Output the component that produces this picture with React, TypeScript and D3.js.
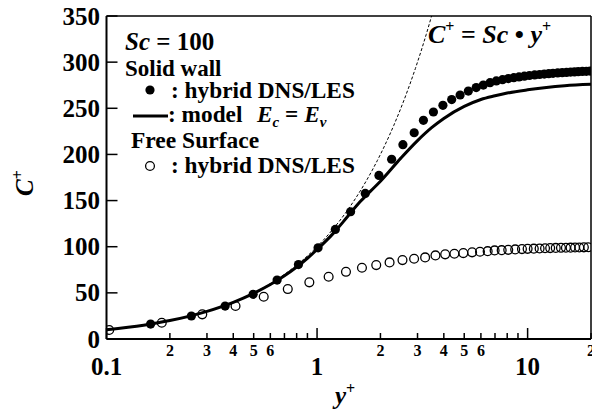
import React from "react";
import * as d3 from "d3";

const wallX = [0.162, 0.253, 0.366, 0.497, 0.646, 0.816, 1.011, 1.221, 1.443, 1.694, 1.967, 2.26, 2.557, 2.893, 3.2, 3.57, 3.96, 4.36, 4.78, 5.23, 5.7, 6.16, 6.63, 7.1, 7.6, 8.1, 8.6, 9.1, 9.65, 10.2, 10.8, 11.4, 12.0, 12.6, 13.2, 13.9, 14.6, 15.3, 16.0, 16.7, 17.4, 18.2, 19.0, 19.8];
const wallC = [16.2, 24.9, 35.7, 48.4, 63.9, 80.6, 98.8, 118.7, 137.9, 157.7, 177.2, 194.8, 210.6, 223.5, 237, 246, 253.2, 259.4, 264.4, 268.7, 272.4, 275.2, 277.8, 279.6, 281, 282.2, 283.2, 284, 284.8, 285.5, 286.1, 286.6, 287.1, 287.5, 287.9, 288.3, 288.6, 288.9, 289.2, 289.4, 289.7, 289.9, 290.1, 290.3];

const freeX = [0.103, 0.183, 0.285, 0.41, 0.558, 0.726, 0.919, 1.135, 1.372, 1.634, 1.91, 2.21, 2.545, 2.89, 3.26, 3.65, 4.06, 4.49, 4.95, 5.45, 5.94, 6.46, 6.97, 7.53, 8.09, 8.73, 9.4, 10.0, 10.7, 11.4, 12.1, 12.8, 13.6, 14.4, 15.2, 16.0, 16.8, 17.6, 18.5, 19.4];
const freeC = [9.7, 17.6, 26.7, 35.7, 45.8, 54.1, 61.4, 67.4, 72.8, 77.2, 80.1, 83.0, 85.5, 86.9, 88.4, 90.6, 91.7, 92.4, 93.1, 93.9, 94.5, 95.2, 96.0, 96.3, 96.6, 97.1, 97.4, 97.7, 97.9, 98.1, 98.3, 98.5, 98.7, 98.8, 98.9, 99.0, 99.1, 99.2, 99.3, 99.4];

const modelX = [0.1, 0.15, 0.2, 0.3, 0.4, 0.5, 0.6, 0.7, 0.8, 0.9, 1.0, 1.2, 1.4, 1.6, 1.8, 2.0, 2.5, 3.0, 3.5, 4, 5, 6, 7, 8, 10, 12, 15, 20];
const modelC = [10, 15, 20, 30, 39.8, 49.5, 59, 68.5, 78, 87.5, 97, 115, 133, 148.6, 160.5, 171, 196, 215, 229, 239, 252, 259.5, 263.5, 266.5, 270, 272.3, 274.5, 276];

const yTicks = [0, 50, 100, 150, 200, 250, 300, 350];
const majorX = [0.1, 1, 10];
const majorLabels = ["0.1", "1", "10"];
const minorMult = [2, 3, 4, 5, 6, 7, 8, 9];
const minorLabeled = [2, 3, 4, 5, 6];
const Sc = 100;

export default function App() {
  const W = 592, H = 419;
  const left = 106.5, right = 591, top = 16, bottom = 339;
  const x = d3.scaleLog().domain([0.1, 20]).range([left, right]);
  const y = d3.scaleLinear().domain([0, 350]).range([bottom, top]);
  const font = "'Liberation Serif', 'Times New Roman', serif";

  const minorTicks: { v: number; m: number }[] = [];
  [0.1, 1, 10].forEach((dec) => {
    minorMult.forEach((m) => {
      const v = dec * m;
      if (v <= 20) minorTicks.push({ v, m });
    });
  });

  const line = d3
    .line<number>()
    .x((_, i) => x(modelX[i]))
    .y((d) => y(d))
    .curve(d3.curveMonotoneX);

  const dashEnd = 350 / Sc;
  const dashXs = d3.range(0, 61).map((i) => 0.1 * Math.pow(dashEnd / 0.1, i / 60));

  return (
    <svg width={W} height={H} style={{ position: "absolute", left: 0, top: 0, background: "#fff" }} fontFamily={font} fontWeight="bold">
      <defs>
        <clipPath id="plot">
          <rect x={left} y={top} width={right - left} height={bottom - top} />
        </clipPath>
      </defs>
      <rect x={0} y={0} width={W} height={H} fill="#fff" />
      {/* frame */}
      <line x1={left} y1={top} x2={right} y2={top} stroke="#000" strokeWidth={1.5} />
      <line x1={right} y1={top} x2={right} y2={bottom} stroke="#000" strokeWidth={1.5} />
      <line x1={left} y1={top} x2={left} y2={bottom} stroke="#000" strokeWidth={2} />
      <line x1={left} y1={bottom} x2={right} y2={bottom} stroke="#000" strokeWidth={2} />

      {/* y ticks */}
      {yTicks.map((t) => (
        <g key={t}>
          <line x1={left} x2={left + 11} y1={y(t)} y2={y(t)} stroke="#000" strokeWidth={1.5} />
          <text x={100} y={y(t) + 8.5} textAnchor="end" fontSize={25}>{t}</text>
        </g>
      ))}

      {/* x ticks */}
      {majorX.map((t, i) => (
        <g key={t}>
          <line x1={x(t)} x2={x(t)} y1={bottom} y2={bottom - 11} stroke="#000" strokeWidth={1.5} />
          <text x={x(t)} y={375} textAnchor="middle" fontSize={25}>{majorLabels[i]}</text>
        </g>
      ))}
      {minorTicks.map((t) => (
        <g key={t.v}>
          <line x1={x(t.v)} x2={x(t.v)} y1={bottom} y2={bottom - 6} stroke="#000" strokeWidth={1.5} />
          {minorLabeled.includes(t.m) && (
            <text x={x(t.v)} y={356} textAnchor="middle" fontSize={16}>{t.m}</text>
          )}
        </g>
      ))}

      {/* axis titles */}
      <text transform={`translate(33,183) rotate(-90)`} textAnchor="middle" fontSize={25}>
        <tspan fontStyle="italic">C</tspan>
        <tspan fontSize={16} dy={-10}>+</tspan>
      </text>
      <text x={345} y={404} textAnchor="middle" fontSize={25}>
        <tspan fontStyle="italic">y</tspan>
        <tspan fontSize={16} dy={-10}>+</tspan>
      </text>

      <g clipPath="url(#plot)">
        {/* dashed C+ = Sc y+ */}
        <path
          d={d3.line<number>().x((d) => x(d)).y((d) => y(Sc * d))(dashXs) || ""}
          fill="none"
          stroke="#000"
          strokeWidth={1}
          strokeDasharray="3,2"
        />
        {/* model line */}
        <path d={line(modelC) || ""} fill="none" stroke="#000" strokeWidth={3} />
        {/* free surface */}
        {freeX.map((v, i) => (
          <circle key={"f" + i} cx={x(v)} cy={y(freeC[i])} r={4.4} fill="none" stroke="#000" strokeWidth={1.3} />
        ))}
        {/* solid wall */}
        {wallX.map((v, i) => (
          <circle key={"w" + i} cx={x(v)} cy={y(wallC[i])} r={4.6} fill="#000" />
        ))}
      </g>

      {/* legend */}
      <text x={125} y={49.5} fontSize={25}>
        <tspan fontStyle="italic">Sc</tspan> = 100
      </text>
      <text x={125} y={76} fontSize={23}>Solid wall</text>
      <circle cx={150} cy={90} r={4.6} fill="#000" />
      <text x={171} y={98} fontSize={23.3}>: hybrid DNS/LES</text>
      <line x1={133} x2={168} y1={116} y2={116} stroke="#000" strokeWidth={3} />
      <text x={168} y={122} fontSize={23.3}>
        : model
        <tspan x={257} fontStyle="italic">E</tspan>
        <tspan fontStyle="italic" fontSize={15} dy={5}>c</tspan>
        <tspan dy={-5}> = </tspan>
        <tspan fontStyle="italic">E</tspan>
        <tspan fontStyle="italic" fontSize={15} dy={5}>v</tspan>
      </text>
      <text x={131} y={148} fontSize={23.5}>Free Surface</text>
      <circle cx={150} cy={166} r={4.4} fill="none" stroke="#000" strokeWidth={1.3} />
      <text x={171} y={173} fontSize={23.3}>: hybrid DNS/LES</text>

      {/* dashed line label */}
      <text x={428} y={43} fontSize={26}>
        <tspan fontStyle="italic">C</tspan>
        <tspan fontSize={16} dy={-11}>+</tspan>
        <tspan dy={11}> = </tspan>
        <tspan fontStyle="italic">Sc</tspan>
        <tspan> • </tspan>
        <tspan fontStyle="italic">y</tspan>
        <tspan fontSize={16} dy={-11}>+</tspan>
      </text>
    </svg>
  );
}
